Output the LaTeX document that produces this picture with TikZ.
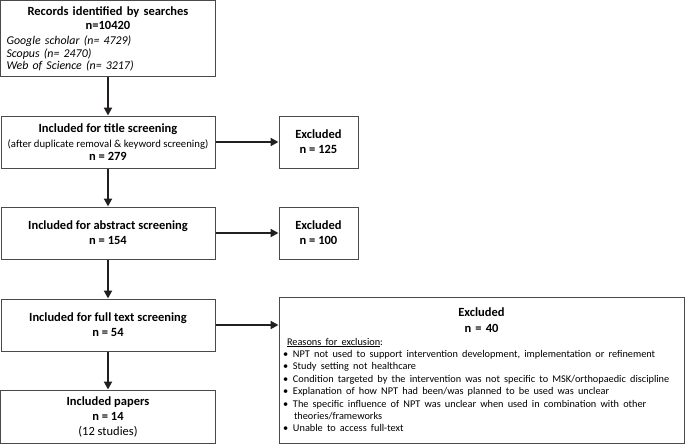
\documentclass[tikz,border=0pt]{standalone}
\usepackage{fontspec}
\setmainfont{Carlito}
\usetikzlibrary{arrows.meta}
\definecolor{boxline}{HTML}{4A4A4A}
\definecolor{arrowc}{HTML}{231F20}
\newcommand{\bigf}{\fontsize{12.5}{15}\selectfont}
\newcommand{\smallf}{\fontsize{10.7}{14}\selectfont}
\newcommand{\bitem}{\par\hangindent=10pt\hangafter=1\noindent\hspace{-1pt}\makebox[10pt][l]{•}}
\tikzset{
  flowbox/.style={draw=boxline, line width=1pt, rectangle, inner sep=2pt, align=center, font=\bigf, text=black},
  flowarrow/.style={draw=arrowc, line width=2.3pt, -{Triangle[length=8pt,width=8pt]}},
}
\begin{document}
\begin{tikzpicture}[x=1pt,y=-1pt]
\useasboundingbox (0,0) rectangle (685,445);
\node[flowbox, minimum width=215pt, minimum height=76pt, text width=203pt, align=left] (b1) at (108,38.5) {%
  \centering\bfseries\baselineskip=14pt Records identified by searches\\ n=10420\par
  \raggedright\mdseries\fontsize{11.9}{12.6}\selectfont\itshape\vspace{2.5pt} Google scholar (n= 4729)\\ Scopus (n= 2470)\\ Web of Science (n= 3217)\par\vspace{-1pt}};
\node[flowbox, minimum width=214pt, minimum height=52pt] (b2) at (108,142) {\textbf{Included for title screening}\\[0pt] {\smallf (after duplicate removal \& keyword screening)}\\[-2pt] \textbf{n = 279}};
\node[flowbox, minimum width=79pt, minimum height=52pt] (e1) at (318.5,142) {\textbf{Excluded}\\ \textbf{n = 125}};
\node[flowbox, minimum width=214pt, minimum height=52pt] (b3) at (108,233) {\textbf{Included for abstract screening}\\ \textbf{n = 154}};
\node[flowbox, minimum width=79pt, minimum height=52pt] (e2) at (318.5,233) {\textbf{Excluded}\\ \textbf{n = 100}};
\node[flowbox, minimum width=214pt, minimum height=52pt] (b4) at (108,325) {\textbf{Included for full text screening}\\ \textbf{n = 54}};
\node[flowbox, minimum width=215pt, minimum height=53pt] (b5) at (108,416.5) {\textbf{Included papers}\\ \textbf{n = 14}\\ (12 studies)};
\node[flowbox, minimum width=405pt, minimum height=146pt, text width=395pt, align=left] (e3) at (481.5,370) {%
  \centering\bfseries\baselineskip=16pt Excluded\\ n = 40\par
  \raggedright\mdseries\fontsize{10.3}{12.4}\selectfont
  \noindent\hspace{3pt}\underline{Reasons for exclusion}:
  \bitem NPT not used to support intervention development, implementation or refinement
  \bitem Study setting not healthcare
  \bitem Condition targeted by the intervention was not specific to MSK/orthopaedic discipline
  \bitem Explanation of how NPT had been/was planned to be used was unclear
  \bitem The specific influence of NPT was unclear when used in combination with other\newline theories/frameworks
  \bitem Unable to access full-text\par};
\draw[flowarrow] (b1) -- (b2);
\draw[flowarrow] (b2) -- (b3);
\draw[flowarrow] (b3) -- (b4);
\draw[flowarrow] (b4) -- (b5);
\draw[flowarrow] (b2) -- (e1);
\draw[flowarrow] (b3) -- (e2);
\draw[flowarrow] (b4.east) -- (b4.east -| e3.west);
\end{tikzpicture}
\end{document}
